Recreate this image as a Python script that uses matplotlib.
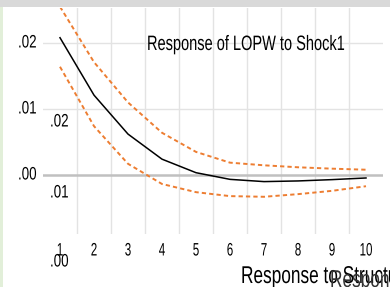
import matplotlib
matplotlib.use("Agg")
import matplotlib.pyplot as plt
from matplotlib.patches import Rectangle
from matplotlib.patheffects import AbstractPathEffect
from matplotlib.transforms import Affine2D

periods = [1, 2, 3, 4, 5, 6, 7, 8, 9, 10]
response = [0.0208, 0.0121, 0.0062, 0.0024, 0.00035, -0.00066, -0.0010, -0.0009, -0.0007, -0.00045]
upper = [0.0255, 0.0171, 0.0110, 0.0064, 0.0035, 0.00187, 0.00147, 0.00117, 0.00096, 0.0008]
lower = [0.0164, 0.0074, 0.0017, -0.00136, -0.0026, -0.0032, -0.0033, -0.0029, -0.0024, -0.0017]
ytick_vals = [0.0, 0.01, 0.02]
ytick_labels = [".00", ".01", ".02"]
title = "Response of LOPW to Shock1"


class Squeeze(AbstractPathEffect):
    """Compress glyphs horizontally around the text origin (narrow font look)."""
    def __init__(self, sx=0.74):
        super().__init__()
        self.sx = sx

    def draw_path(self, renderer, gc, tpath, affine, rgbFace=None):
        renderer.draw_path(gc, tpath, Affine2D().scale(self.sx, 1) + affine, rgbFace)


FONT = ["Liberation Sans", "DejaVu Sans"]
SQ = 0.74
W, H = 390, 287
fig = plt.figure(figsize=(W / 100, H / 100), dpi=100)
fig.patch.set_facecolor("white")


def fx(px):
    return px / W


def fy(py):
    return 1 - py / H


def txt(xp, yp, s, size, va="center", sq=SQ, color="black"):
    return fig.text(fx(xp), fy(yp), s, ha="left", va=va, fontsize=size,
                    family=FONT, color=color, path_effects=[Squeeze(sq)])


# top gray band and left green strip
fig.patches.append(Rectangle((0, fy(7)), 1, 7 / H, transform=fig.transFigure,
                             facecolor="#d9d9d9", edgecolor="none", zorder=0))
fig.patches.append(Rectangle((0, 0), fx(3), fy(7), transform=fig.transFigure,
                             facecolor="#e2efd9", edgecolor="none", zorder=0))

ax = fig.add_axes([fx(43), fy(234), fx(383) - fx(43), fy(8) - fy(234)])
ax.set_facecolor("none")
ax.set_xlim(0.5, 10.5)
ax.set_ylim(-0.008939, 0.025303)
for s in ax.spines.values():
    s.set_visible(False)
ax.set_xticks([])
ax.set_yticks([])

# grid
for xb in [1.5 + i for i in range(9)]:
    ax.axvline(xb, color="#e3e3e3", lw=1.0, zorder=1)
for yv in ytick_vals:
    if yv == 0:
        ax.axhline(yv, color="#c0c0c0", lw=1.8, zorder=2)
    else:
        ax.axhline(yv, color="#e3e3e3", lw=1.0, zorder=1)

ax.plot(periods, upper, color="#ed7d31", lw=1.4, ls=(0, (2.2, 1.6)), zorder=3)
ax.plot(periods, lower, color="#ed7d31", lw=1.4, ls=(0, (2.2, 1.6)), zorder=3)
ax.plot(periods, response, color="black", lw=1.1, zorder=4)

# y tick labels (left edge at x=18 px)
for v, lab in zip(ytick_vals, ytick_labels):
    ypix = ax.transData.transform((1, v))[1]
    txt(18, H - ypix, lab, 13)

# category labels
cat_size = 13
cat_sq = 0.64
em = cat_size * 100 / 72
for p in periods:
    lab = str(p)
    xc = ax.transData.transform((p, 0))[0]
    wpx = len(lab) * 0.556 * em * cat_sq
    txt(xc - wpx / 2, 251, lab, cat_size, sq=cat_sq)

txt(147, 50, title, 15, va="baseline", sq=0.70)

# stray overlapping labels
txt(50, 122, ".02", 13)
txt(50, 193, ".01", 13)
txt(50, 262, ".00", 13)
txt(241, 283, "Response to Structural", 17.5, va="baseline", sq=0.71)
txt(330, 287, "Response", 17.5, va="baseline", sq=0.71, color="#333333")

fig.savefig("out.png", dpi=100)
